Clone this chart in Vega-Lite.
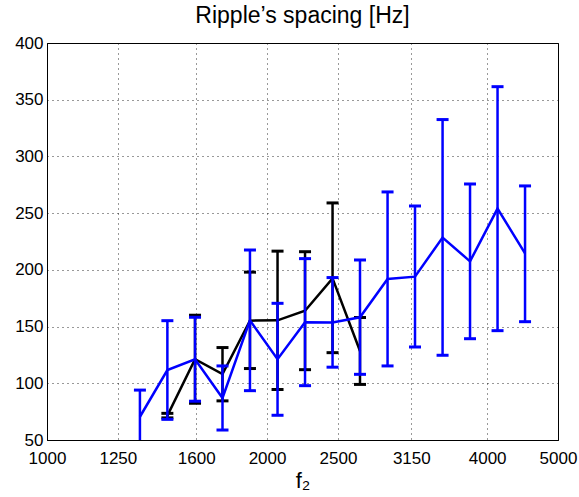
{
  "$schema": "https://vega.github.io/schema/vega-lite/v6.json",
  "autosize": {"type": "none"},
  "padding": {"left": 47, "top": 43, "right": 21, "bottom": 57},
  "width": 511,
  "height": 397,
  "config": {
    "font": "Liberation Sans",
    "view": {"stroke": "#000", "strokeWidth": 1},
    "axis": {
      "domainColor": "#000",
      "tickColor": "#000",
      "labelColor": "#000",
      "titleColor": "#000",
      "labelFont": "Liberation Sans",
      "labelFontSize": 17,
      "gridColor": "#000",
      "gridDash": [1, 4],
      "gridOpacity": 0.8,
      "labelFlush": false,
      "labelOverlap": false
    }
  },
  "title": {
    "text": "Ripple’s spacing [Hz]",
    "font": "Liberation Sans",
    "fontSize": 23,
    "fontWeight": "normal",
    "color": "#000",
    "offset": 6
  },
  "data": {
    "values": [
      {"s": "black", "f": 1461, "m": 71.5, "lo": 69.5, "hi": 73.5},
      {"s": "black", "f": 1594, "m": 121.2, "lo": 82.4, "hi": 160},
      {"s": "black", "f": 1738, "m": 108.2, "lo": 84.5, "hi": 131.5},
      {"s": "black", "f": 1895, "m": 155.2, "lo": 113, "hi": 198},
      {"s": "black", "f": 2067, "m": 155.5, "lo": 94.5, "hi": 216.5},
      {"s": "black", "f": 2254, "m": 164, "lo": 112, "hi": 216},
      {"s": "black", "f": 2458, "m": 192.5, "lo": 127, "hi": 259},
      {"s": "black", "f": 2680, "m": 128.5, "lo": 99, "hi": 158},
      {"s": "blue", "f": 1340, "m": 70.5, "lo": 47, "hi": 94},
      {"s": "blue", "f": 1461, "m": 111.7, "lo": 68.2, "hi": 155.2},
      {"s": "blue", "f": 1594, "m": 121.2, "lo": 84.2, "hi": 158.2},
      {"s": "blue", "f": 1738, "m": 87, "lo": 58.8, "hi": 115.3},
      {"s": "blue", "f": 1895, "m": 155.5, "lo": 93.5, "hi": 217.5},
      {"s": "blue", "f": 2067, "m": 121.2, "lo": 71.8, "hi": 170.5},
      {"s": "blue", "f": 2254, "m": 153.9, "lo": 97.9, "hi": 209.9},
      {"s": "blue", "f": 2458, "m": 153.6, "lo": 114.2, "hi": 193.2},
      {"s": "blue", "f": 2680, "m": 158.2, "lo": 107.9, "hi": 208.7},
      {"s": "blue", "f": 2923, "m": 192, "lo": 115.3, "hi": 268.7},
      {"s": "blue", "f": 3187, "m": 194, "lo": 132, "hi": 256.3},
      {"s": "blue", "f": 3476, "m": 228.5, "lo": 124.7, "hi": 332.5},
      {"s": "blue", "f": 3790, "m": 207.5, "lo": 139.3, "hi": 275.7},
      {"s": "blue", "f": 4133, "m": 254, "lo": 146.4, "hi": 361.5},
      {"s": "blue", "f": 4507, "m": 214.5, "lo": 154.3, "hi": 274}
    ]
  },
  "encoding": {
    "x": {
      "field": "f",
      "type": "quantitative",
      "scale": {"type": "log", "domain": [1000, 5000], "nice": false},
      "axis": {
        "values": [1000, 1250, 1600, 2000, 2500, 3150, 4000, 5000],
        "format": "d",
        "title": "f₂",
        "titleFont": "Liberation Sans",
        "titleFontSize": 22,
        "titleFontWeight": "normal",
        "titlePadding": 4,
        "tickSize": 0,
        "labelPadding": 10,
        "grid": true
      }
    },
    "y": {
      "field": "m",
      "type": "quantitative",
      "scale": {"domain": [50, 400], "nice": false, "zero": false},
      "axis": {
        "values": [50, 100, 150, 200, 250, 300, 350, 400],
        "title": null,
        "tickSize": 0,
        "labelPadding": 4,
        "grid": true
      }
    }
  },
  "layer": [
    {
      "transform": [{"filter": "datum.s === 'black'"}],
      "mark": {"type": "line", "color": "#000", "strokeWidth": 2.5, "clip": true}
    },
    {
      "transform": [{"filter": "datum.s === 'black'"}],
      "mark": {"type": "rule", "color": "#000", "strokeWidth": 2.5, "clip": true},
      "encoding": {"y": {"field": "lo", "type": "quantitative"}, "y2": {"field": "hi"}}
    },
    {
      "transform": [{"filter": "datum.s === 'black'"}],
      "mark": {"type": "tick", "orient": "horizontal", "color": "#000", "size": 12, "thickness": 3, "opacity": 1, "clip": true},
      "encoding": {"y": {"field": "lo", "type": "quantitative"}}
    },
    {
      "transform": [{"filter": "datum.s === 'black'"}],
      "mark": {"type": "tick", "orient": "horizontal", "color": "#000", "size": 12, "thickness": 3, "opacity": 1, "clip": true},
      "encoding": {"y": {"field": "hi", "type": "quantitative"}}
    },
    {
      "transform": [{"filter": "datum.s === 'blue'"}],
      "mark": {"type": "line", "color": "#0000ff", "strokeWidth": 2.5, "clip": true}
    },
    {
      "transform": [{"filter": "datum.s === 'blue'"}],
      "mark": {"type": "rule", "color": "#0000ff", "strokeWidth": 2.5, "clip": true},
      "encoding": {"y": {"field": "lo", "type": "quantitative"}, "y2": {"field": "hi"}}
    },
    {
      "transform": [{"filter": "datum.s === 'blue'"}],
      "mark": {"type": "tick", "orient": "horizontal", "color": "#0000ff", "size": 12, "thickness": 3, "opacity": 1, "clip": true},
      "encoding": {"y": {"field": "lo", "type": "quantitative"}}
    },
    {
      "transform": [{"filter": "datum.s === 'blue'"}],
      "mark": {"type": "tick", "orient": "horizontal", "color": "#0000ff", "size": 12, "thickness": 3, "opacity": 1, "clip": true},
      "encoding": {"y": {"field": "hi", "type": "quantitative"}}
    }
  ]
}
